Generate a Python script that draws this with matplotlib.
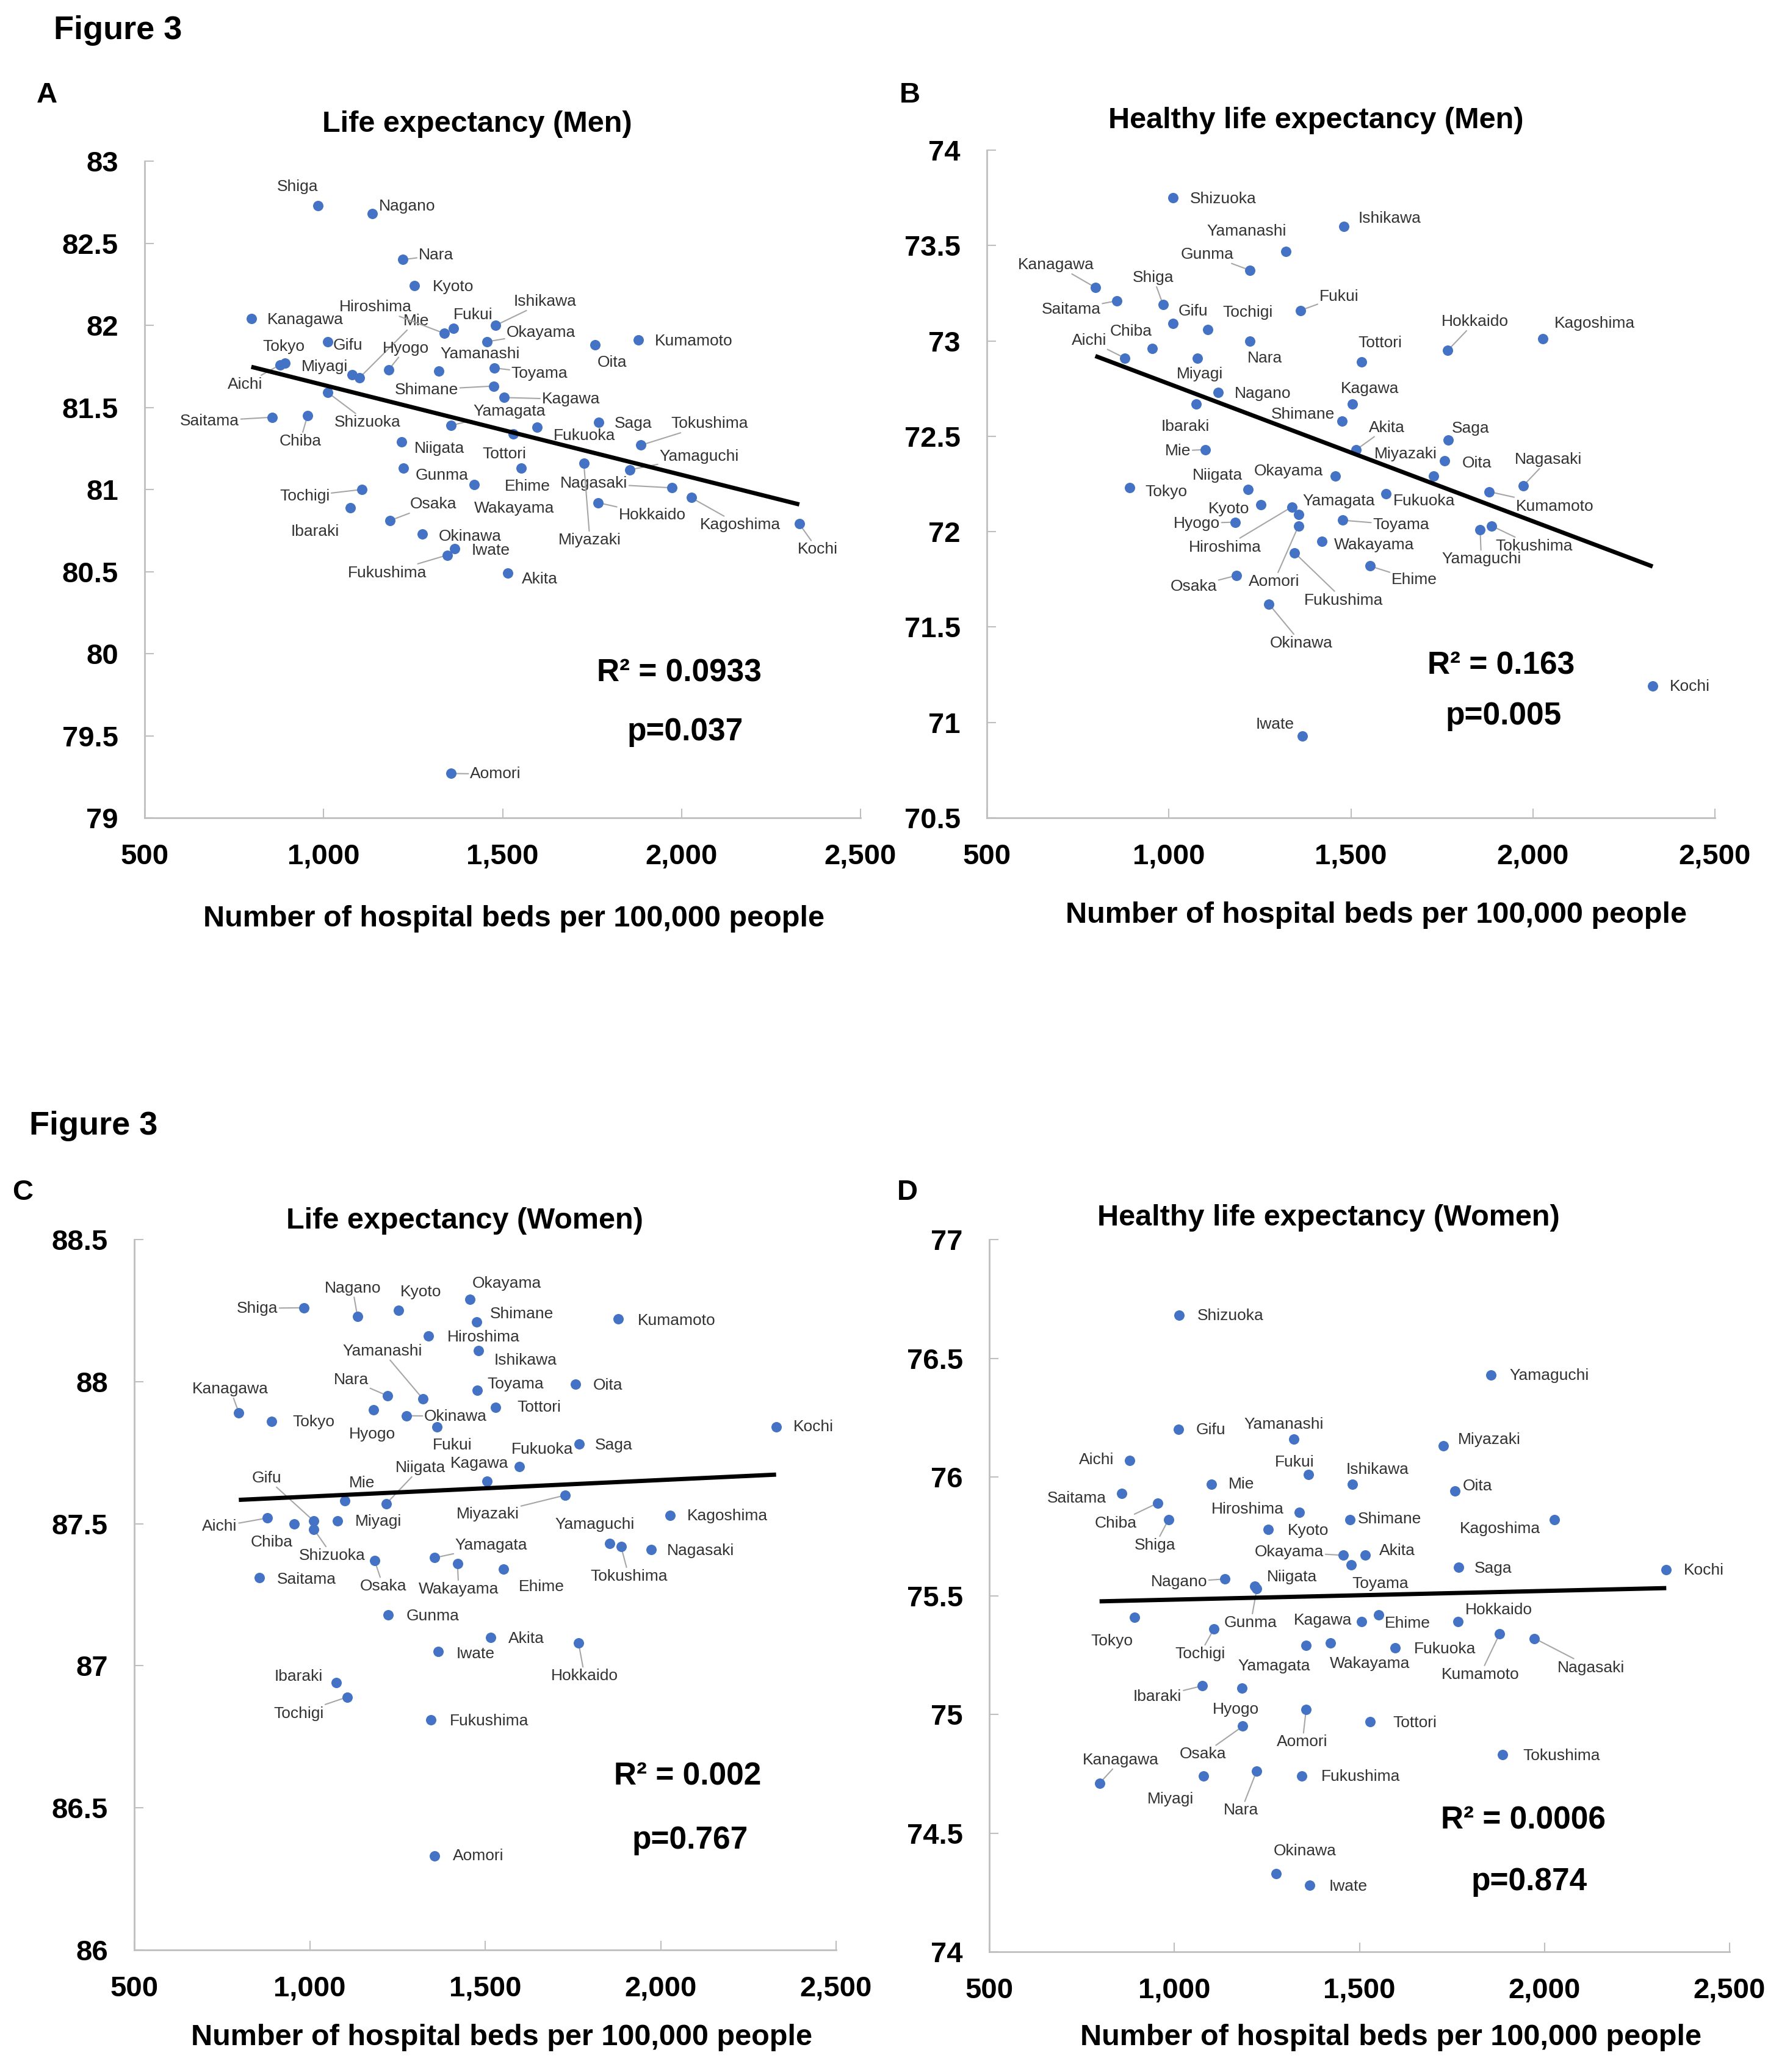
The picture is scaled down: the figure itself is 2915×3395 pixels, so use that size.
import numpy as np
import matplotlib
matplotlib.use("Agg")
import matplotlib.pyplot as plt

plt.rcParams['font.family'] = ['Liberation Sans', 'DejaVu Sans']

# 47 prefectures
prefs = ['Hokkaido', 'Aomori', 'Iwate', 'Miyagi', 'Akita', 'Yamagata', 'Fukushima',
         'Ibaraki', 'Tochigi', 'Gunma', 'Saitama', 'Chiba', 'Tokyo', 'Kanagawa',
         'Niigata', 'Toyama', 'Ishikawa', 'Fukui', 'Yamanashi', 'Nagano', 'Gifu',
         'Shizuoka', 'Aichi', 'Mie', 'Shiga', 'Kyoto', 'Osaka', 'Hyogo', 'Nara',
         'Wakayama', 'Tottori', 'Shimane', 'Okayama', 'Hiroshima', 'Yamaguchi',
         'Tokushima', 'Kagawa', 'Ehime', 'Kochi', 'Fukuoka', 'Saga', 'Nagasaki',
         'Kumamoto', 'Oita', 'Miyazaki', 'Kagoshima', 'Okinawa']

beds = [1766, 1356, 1366, 1079, 1515, 1356, 1345,
        1075, 1107, 1223, 857, 955, 892, 798,
        1218, 1477, 1481, 1362, 1322, 1136, 1011,
        1012, 879, 1100, 984, 1253, 1185, 1182, 1222,
        1421, 1529, 1475, 1457, 1338, 1855,
        1887, 1505, 1552, 2329, 1597, 1768, 1973,
        1879, 1758, 1727, 2027, 1275]

le_men = [80.92, 79.27, 80.64, 81.70, 80.49, 81.39, 80.60,
          80.89, 81.00, 81.13, 81.44, 81.45, 81.77, 82.04,
          81.29, 81.74, 82.00, 81.98, 81.72, 82.68, 81.90,
          81.59, 81.76, 81.68, 82.73, 82.24, 80.81, 81.73, 82.40,
          81.03, 81.34, 81.63, 81.90, 81.95, 81.12,
          81.27, 81.56, 81.13, 80.79, 81.38, 81.41, 81.01,
          81.91, 81.88, 81.16, 80.95, 80.73]

hle_men = [72.95, 72.03, 70.93, 72.91, 72.43, 72.09, 71.89,
           72.67, 73.06, 73.37, 73.21, 72.96, 72.23, 73.28,
           72.22, 72.06, 73.60, 73.16, 73.47, 72.73, 73.09,
           73.75, 72.91, 72.43, 73.19, 72.14, 71.77, 72.05, 73.00,
           71.95, 72.89, 72.58, 72.29, 72.13, 72.01,
           72.03, 72.67, 71.82, 71.19, 72.20, 72.48, 72.24,
           72.21, 72.37, 72.29, 73.01, 71.62]

le_women = [87.08, 86.33, 87.05, 87.51, 87.10, 87.38, 86.81,
            86.94, 86.89, 87.18, 87.31, 87.50, 87.86, 87.89,
            87.57, 87.97, 88.11, 87.84, 87.94, 88.23, 87.51,
            87.48, 87.52, 87.58, 88.26, 88.25, 87.37, 87.90, 87.95,
            87.36, 87.91, 88.21, 88.29, 88.16, 87.43,
            87.42, 87.65, 87.34, 87.84, 87.70, 87.78, 87.41,
            88.22, 87.99, 87.60, 87.53, 87.88]

hle_women = [75.39, 75.02, 74.28, 74.74, 75.67, 75.29, 74.74,
             75.12, 75.36, 75.53, 75.93, 75.89, 75.41, 74.71,
             75.54, 75.63, 75.97, 76.01, 76.16, 75.57, 76.20,
             76.68, 76.07, 75.97, 75.82, 75.78, 74.95, 75.11, 74.76,
             75.30, 74.97, 75.82, 75.67, 75.85, 76.43,
             74.83, 75.39, 75.42, 75.61, 75.28, 75.62, 75.32,
             75.34, 75.94, 76.13, 75.82, 74.33]

titles = ['Life expectancy (Men)', 'Healthy life expectancy (Men)',
          'Life expectancy (Women)', 'Healthy life expectancy (Women)']
r2_texts = ['R\u00b2 = 0.0933', 'R\u00b2 = 0.163', 'R\u00b2 = 0.002', 'R\u00b2 = 0.0006']
p_texts = ['p=0.037', 'p=0.005', 'p=0.767', 'p=0.874']
xticks = [500, 1000, 1500, 2000, 2500]

# label offsets in pixels (dx, dy, leader line)
offs_a = {
    'Shiga': (-33, 31, 0), 'Nagano': (57, 12, 0), 'Nara': (54, 7, 1), 'Kyoto': (64, -2, 0),
    'Kanagawa': (89, -2, 0), 'Hiroshima': (-113, 43, 1), 'Mie': (93, 93, 1), 'Fukui': (33, 22, 0),
    'Ishikawa': (81, 39, 1), 'Okayama': (88, 15, 1), 'Oita': (28, -29, 0), 'Kumamoto': (91, -2, 0),
    'Gifu': (33, -6, 0), 'Tokyo': (-2, 27, 0), 'Aichi': (-58, -32, 1), 'Miyagi': (-45, 13, 0),
    'Hyogo': (28, 35, 1), 'Yamanashi': (68, 28, 0), 'Toyama': (74, -9, 1), 'Shimane': (-110, -6, 1),
    'Kagawa': (109, -3, 1), 'Shizuoka': (65, -49, 1), 'Saitama': (-103, -6, 1), 'Chiba': (-12, -42, 1),
    'Yamagata': (96, 23, 1), 'Tottori': (-14, -33, 0), 'Fukuoka': (77, -14, 0), 'Saga': (57, -2, 0),
    'Tokushima': (112, 35, 1), 'Niigata': (62, -11, 0), 'Gunma': (63, -12, 0), 'Miyazaki': (10, -126, 1),
    'Yamaguchi': (114, 22, 1), 'Ehime': (10, -30, 0), 'Wakayama': (65, -39, 0), 'Nagasaki': (-128, 7, 1),
    'Kagoshima': (80, -45, 1), 'Hokkaido': (89, -20, 1), 'Tochigi': (-94, -11, 1), 'Ibaraki': (-58, -39, 0),
    'Osaka': (71, 27, 1), 'Okinawa': (79, -4, 0), 'Iwate': (59, -3, 0), 'Fukushima': (-98, -29, 1),
    'Akita': (52, -10, 0), 'Kochi': (30, -42, 1), 'Aomori': (73, -1, 1),
}
offs_b = {
    'Shizuoka': (82, -2, 0), 'Ishikawa': (75, 13, 0), 'Yamanashi': (-65, 33, 0), 'Gunma': (-70, 26, 1),
    'Kanagawa': (-64, 37, 1), 'Saitama': (-75, -14, 1), 'Shiga': (-16, 44, 1), 'Gifu': (33, 20, 0),
    'Tochigi': (65, 28, 0), 'Fukui': (63, 23, 1), 'Chiba': (-35, 28, 0), 'Aichi': (-58, 29, 1),
    'Nara': (25, -28, 0), 'Miyagi': (4, -26, 0), 'Tottori': (31, 31, 0), 'Hokkaido': (45, 47, 1),
    'Kagoshima': (85, 25, 0), 'Nagano': (73, -2, 0), 'Ibaraki': (-18, -37, 0), 'Kagawa': (28, 25, 0),
    'Shimane': (-64, 11, 0), 'Mie': (-45, -2, 1), 'Akita': (50, 36, 1), 'Saga': (36, 19, 0),
    'Oita': (53, -4, 0), 'Miyazaki': (-46, 36, 0), 'Nagasaki': (41, 43, 1), 'Kumamoto': (108, -24, 1),
    'Okayama': (-76, 8, 0), 'Niigata': (-50, 23, 0), 'Tokyo': (60, -7, 0), 'Fukuoka': (62, -12, 0),
    'Kyoto': (-53, -7, 0), 'Hiroshima': (-110, -66, 1), 'Yamagata': (66, 22, 0), 'Aomori': (-40, -91, 1),
    'Hyogo': (-63, -2, 1), 'Toyama': (96, -8, 1), 'Wakayama': (85, -6, 0), 'Fukushima': (81, -78, 1),
    'Yamaguchi': (2, -48, 1), 'Tokushima': (69, -33, 1), 'Ehime': (73, -23, 1), 'Osaka': (-70, -18, 1),
    'Okinawa': (53, -64, 1), 'Kochi': (61, -1, 0), 'Iwate': (-44, 19, 0),
}
offs_c = {
    'Shiga': (-77, -1, 1), 'Nagano': (-8, 46, 1), 'Kyoto': (37, 30, 0), 'Okayama': (60, 26, 0),
    'Shimane': (74, 13, 0), 'Kumamoto': (96, -3, 0), 'Hiroshima': (90, -2, 0), 'Ishikawa': (77, -16, 0),
    'Yamanashi': (-66, 78, 1), 'Nara': (-60, 26, 1), 'Toyama': (63, 10, 0), 'Oita': (53, -2, 0),
    'Kanagawa': (-14, 39, 1), 'Tokyo': (68, -1, 0), 'Hyogo': (-2, -40, 0), 'Okinawa': (81, -1, 1),
    'Fukui': (26, -30, 0), 'Tottori': (72, 0, 0), 'Saga': (57, -2, 0), 'Fukuoka': (38, 28, 0),
    'Kagawa': (-12, 29, 0), 'Niigata': (56, 59, 1), 'Mie': (28, 29, 0), 'Miyazaki': (-126, -31, 1),
    'Gifu': (-77, 70, 1), 'Shizuoka': (30, -43, 1), 'Aichi': (-78, -14, 1), 'Chiba': (-37, -30, 0),
    'Miyagi': (67, -1, 0), 'Kagoshima': (94, -1, 0), 'Yamaguchi': (-25, 31, 0), 'Tokushima': (13, -49, 1),
    'Nagasaki': (81, -2, 0), 'Yamagata': (93, 20, 1), 'Wakayama': (2, -42, 1), 'Ehime': (62, -29, 0),
    'Osaka': (14, -42, 1), 'Saitama': (77, -3, 0), 'Gunma': (73, -2, 0), 'Akita': (59, -2, 0),
    'Hokkaido': (10, -54, 1), 'Iwate': (61, -4, 0), 'Ibaraki': (-61, 10, 0), 'Tochigi': (-80, -27, 1),
    'Fukushima': (96, -2, 0), 'Aomori': (72, 0, 0), 'Kochi': (61, 0, 0),
}
offs_d = {
    'Shizuoka': (85, -1, 0), 'Yamaguchi': (96, -1, 0), 'Gifu': (53, -1, 0), 'Yamanashi': (-16, 24, 0),
    'Miyazaki': (75, 10, 0), 'Aichi': (-54, 1, 0), 'Fukui': (-23, 20, 0), 'Mie': (49, 0, 0),
    'Ishikawa': (41, 24, 0), 'Oita': (37, 8, 0), 'Saitama': (-73, -8, 0), 'Chiba': (-69, -33, 1),
    'Shiga': (-22, -42, 1), 'Hiroshima': (-85, 5, 0), 'Shimane': (65, 1, 0), 'Kagoshima': (-89, -15, 0),
    'Kyoto': (66, -2, 0), 'Okayama': (-89, 5, 1), 'Akita': (53, 7, 0), 'Toyama': (48, -31, 0),
    'Saga': (57, -2, 0), 'Kochi': (62, -1, 0), 'Nagano': (-75, -5, 1), 'Niigata': (61, 15, 0),
    'Gunma': (-10, -56, 1), 'Tokyo': (-37, -39, 0), 'Tochigi': (-23, -41, 1), 'Kagawa': (-63, 2, 0),
    'Ehime': (47, -14, 0), 'Hokkaido': (67, 19, 0), 'Kumamoto': (-32, -67, 1), 'Nagasaki': (93, -48, 1),
    'Yamagata': (-52, -34, 0), 'Wakayama': (65, -34, 0), 'Fukuoka': (81, -2, 0), 'Ibaraki': (-73, -18, 1),
    'Hyogo': (-10, -35, 0), 'Aomori': (-6, -53, 1), 'Tottori': (73, -2, 0), 'Osaka': (-65, -46, 1),
    'Tokushima': (96, -2, 0), 'Kanagawa': (35, 38, 1), 'Miyagi': (-54, -38, 0), 'Nara': (-25, -64, 1),
    'Fukushima': (96, -1, 0), 'Okinawa': (47, 37, 0), 'Iwate': (63, -2, 0),
}

W, H = 2915, 3395
fig = plt.figure(figsize=(W / 100, H / 100), dpi=100)


def px_rect(l, t, r, b):
    return [l / W, 1 - b / H, (r - l) / W, (b - t) / H]


def ftext(x, y, s, **kw):
    fig.text(x / W, 1 - y / H, s, **kw)


panels = [
    (px_rect(237, 264, 1410, 1340), le_men, (79, 83), offs_a, (782, 203), (842, 1505), (1113, 1103), (1123, 1199)),
    (px_rect(1617, 246, 2810, 1340), hle_men, (70.5, 74), offs_b, (2156, 197), (2255, 1499), (2460, 1091), (2464, 1174)),
    (px_rect(220, 2031, 1370, 3195), le_women, (86, 88.5), offs_c, (761, 2000), (822, 3338), (1127, 2911), (1131, 3015)),
    (px_rect(1621, 2031, 2834, 3198), hle_women, (74, 77), offs_d, (2177, 1995), (2279, 3338), (2496, 2983), (2506, 3083)),
]

grey = '#BFBFBF'
for i, (rect, vals, ylim, offs, tpos, xlpos, r2pos, ppos) in enumerate(panels):
    ax = fig.add_axes(rect)
    ax.scatter(beds, vals, s=150, color='#4472C4', zorder=4, linewidths=0)

    # linear trendline over the data range
    coef = np.polyfit(beds, vals, 1)
    xs = np.array([min(beds), max(beds)])
    ax.plot(xs, np.polyval(coef, xs), color='black', lw=5, zorder=5, solid_capstyle='butt')

    for name, x, y in zip(prefs, beds, vals):
        dx, dy, lead = offs[name]
        arrow = dict(arrowstyle='-', color='#A6A6A6', lw=1.5, shrinkA=0, shrinkB=4) if lead else None
        ax.annotate(name, (x, y), xytext=(dx, dy), textcoords='offset pixels',
                    ha='center', va='center', fontsize=19, color='#333333',
                    zorder=3, arrowprops=arrow)

    ax.set_xlim(500, 2500)
    ax.set_ylim(*ylim)
    ax.set_xticks(xticks)
    ax.set_xticklabels(['{:,}'.format(t) for t in xticks])
    yt = np.arange(ylim[0], ylim[1] + 0.01, 0.5)
    ax.set_yticks(yt)
    ax.set_yticklabels(['%g' % t for t in yt])
    for s in ['top', 'right']:
        ax.spines[s].set_visible(False)
    for s in ['left', 'bottom']:
        ax.spines[s].set_color(grey)
        ax.spines[s].set_linewidth(2)
    ax.tick_params(direction='in', length=11, width=1.5, color=grey, labelsize=34)
    ax.tick_params(axis='y', pad=31)
    ax.tick_params(axis='x', pad=30)
    for lab in ax.get_xticklabels() + ax.get_yticklabels():
        lab.set_fontweight('bold')

    ftext(*tpos, titles[i], fontsize=35, fontweight='bold', ha='center', va='center')
    ftext(*xlpos, 'Number of hospital beds per 100,000 people', fontsize=35,
          fontweight='bold', ha='center', va='center')
    ftext(*r2pos, r2_texts[i], fontsize=37, fontweight='bold', ha='center', va='center')
    ftext(*ppos, p_texts[i], fontsize=37, fontweight='bold', ha='center', va='center')

ftext(88, 50, 'Figure 3', fontsize=39, fontweight='bold', ha='left', va='center')
ftext(60, 156, 'A', fontsize=34, fontweight='bold', ha='left', va='center')
ftext(1474, 156, 'B', fontsize=34, fontweight='bold', ha='left', va='center')
ftext(48, 1845, 'Figure 3', fontsize=39, fontweight='bold', ha='left', va='center')
ftext(20, 1954, 'C', fontsize=34, fontweight='bold', ha='left', va='center')
ftext(1470, 1954, 'D', fontsize=34, fontweight='bold', ha='left', va='center')

fig.savefig('out.png', dpi=100, facecolor='white')
